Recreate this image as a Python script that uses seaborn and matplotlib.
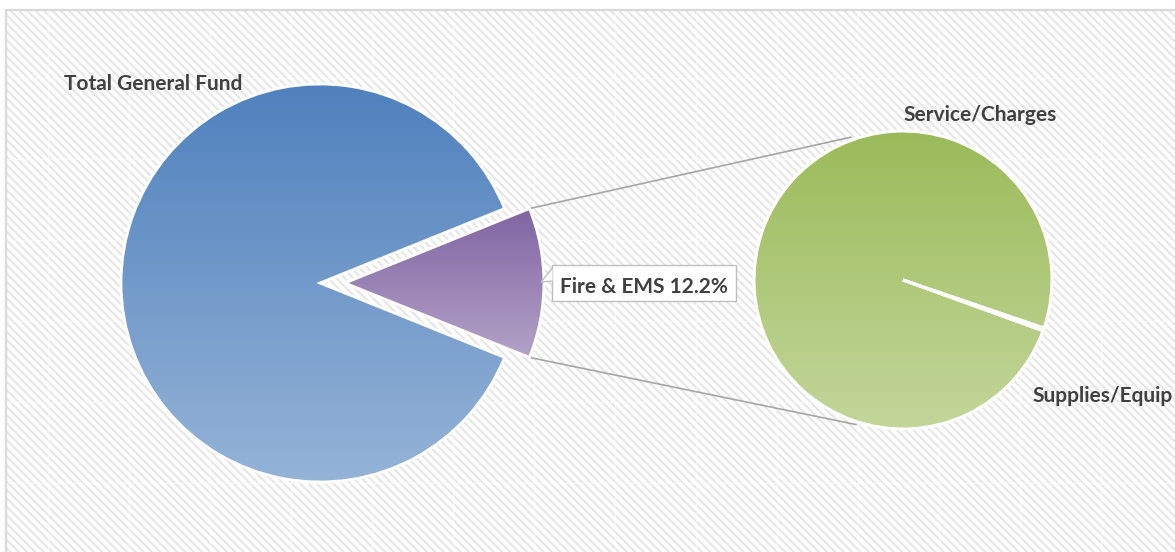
import matplotlib
matplotlib.use("Agg")
import matplotlib.pyplot as plt
import numpy as np
import seaborn as sns
from matplotlib.patches import Rectangle, Polygon

# ---- data ----
main_labels = ["Total General Fund", "Fire & EMS"]
main_values = [87.8, 12.2]
sub_labels = ["Service/Charges", "Supplies/Equip"]
sub_values = [99.7, 0.3]

# gradient (top, bottom) per slice
main_grad = [("#4f81bd", "#95b3d7"), ("#8064a2", "#b3a2c7")]
sub_grad = ("#9bbb59", "#c3d69b")

W, H = 1175, 552
TXT = "#404040"


def py(y):
    # pixel row -> data y (y up)
    return H - y


def fill_gradient(ax, patch, top, bottom, extents=None):
    cmap = sns.blend_palette([bottom, top], n_colors=256, as_cmap=True)
    ext = extents if extents is not None else patch.get_path().get_extents()
    grad = np.linspace(0, 1, 256).reshape(-1, 1)
    im = ax.imshow(grad, cmap=cmap, origin="lower", aspect="auto",
                   extent=(ext.x0, ext.x1, ext.y0, ext.y1), zorder=2,
                   interpolation="bilinear")
    im.set_clip_path(patch)


sns.set_theme(style="white")
plt.rcParams["font.family"] = ["Lato", "DejaVu Sans"]
plt.rcParams["hatch.linewidth"] = 1.5

fig = plt.figure(figsize=(W / 100, H / 100), dpi=100)
ax = fig.add_axes([0, 0, 1, 1])

# background: hatched chart area + border
ax.add_patch(Rectangle((6, -10), W + 20, py(10) + 10, facecolor="white",
                       edgecolor="#e6e6e6", hatch="\\\\\\\\", linewidth=0, zorder=0))
for gx in np.arange(48, W, 81):
    ax.plot([gx, gx], [-10, py(11)], color="white", lw=1.0, alpha=0.5, zorder=0.5)
for gy in np.arange(78, H, 81):
    ax.plot([7, W], [py(gy), py(gy)], color="white", lw=1.0, alpha=0.5, zorder=0.5)
ax.add_patch(Rectangle((6, -10), W + 20, py(10) + 10, facecolor="none",
                       edgecolor="#d9d9d9", linewidth=1.6, zorder=0.6))

# main pie, Fire & EMS pulled out
c1, r1 = (320, py(283)), 199
fire_share = main_values[1] / sum(main_values)
wedges1, _ = ax.pie(main_values, center=c1, radius=r1,
                    startangle=180 * fire_share, explode=[0, 0.125 * r1],
                    wedgeprops=dict(edgecolor="white", linewidth=2.0,
                                    facecolor="none", zorder=3),
                    frame=True)
for w, (top, bot) in zip(wedges1, main_grad):
    fill_gradient(ax, w, top, bot)

# second pie
c2, r2 = (903, py(280)), 149
sub_share = sub_values[1] / sum(sub_values)
wedges2, _ = ax.pie(sub_values, center=c2, radius=r2,
                    startangle=-19.4 + 180 * sub_share,
                    wedgeprops=dict(edgecolor="white", linewidth=2.2,
                                    facecolor="none", zorder=3),
                    frame=True)
circle_ext = wedges2[0].get_path().get_extents()
for w in wedges2:
    fill_gradient(ax, w, sub_grad[0], sub_grad[1], extents=circle_ext)

# connector lines from exploded slice to second pie
fire = wedges1[1]
fc = np.array(fire.center)
for th, end_ang in [(fire.theta2, 110), (fire.theta1, -108)]:
    p0 = fc + fire.r * np.array([np.cos(np.radians(th)), np.sin(np.radians(th))])
    p1 = np.array(c2) + (r2 + 3) * np.array([np.cos(np.radians(end_ang)),
                                             np.sin(np.radians(end_ang))])
    ax.plot([p0[0], p1[0]], [p0[1], p1[1]], color="#a6a6a6", lw=1.2, zorder=1)

# labels
kw = dict(fontsize=15, fontweight="bold", color=TXT, zorder=7)
ax.text(64, py(84), main_labels[0], ha="left", va="center", **kw)
ax.text(980, py(115), sub_labels[0], ha="center", va="center", **kw)
ax.text(1032, py(396), sub_labels[1], ha="left", va="center", **kw)

# callout label for the pulled slice
ax.add_patch(Rectangle((552, py(301)), 184, 36, facecolor="white",
                       edgecolor="#bfbfbf", linewidth=1.0, zorder=5))
ax.add_patch(Polygon([(552.5, py(268)), (541, py(282)), (552.5, py(281))],
                     closed=False, facecolor="white", edgecolor="#bfbfbf",
                     linewidth=1.0, zorder=6))
ax.text(644, py(287), f"{main_labels[1]} {main_values[1]:.1f}%", ha="center",
        va="center", **kw)

ax.set_xlim(0, W)
ax.set_ylim(0, H)
ax.set_aspect("auto")
ax.axis("off")

fig.savefig("out.png", dpi=100, facecolor="white")
